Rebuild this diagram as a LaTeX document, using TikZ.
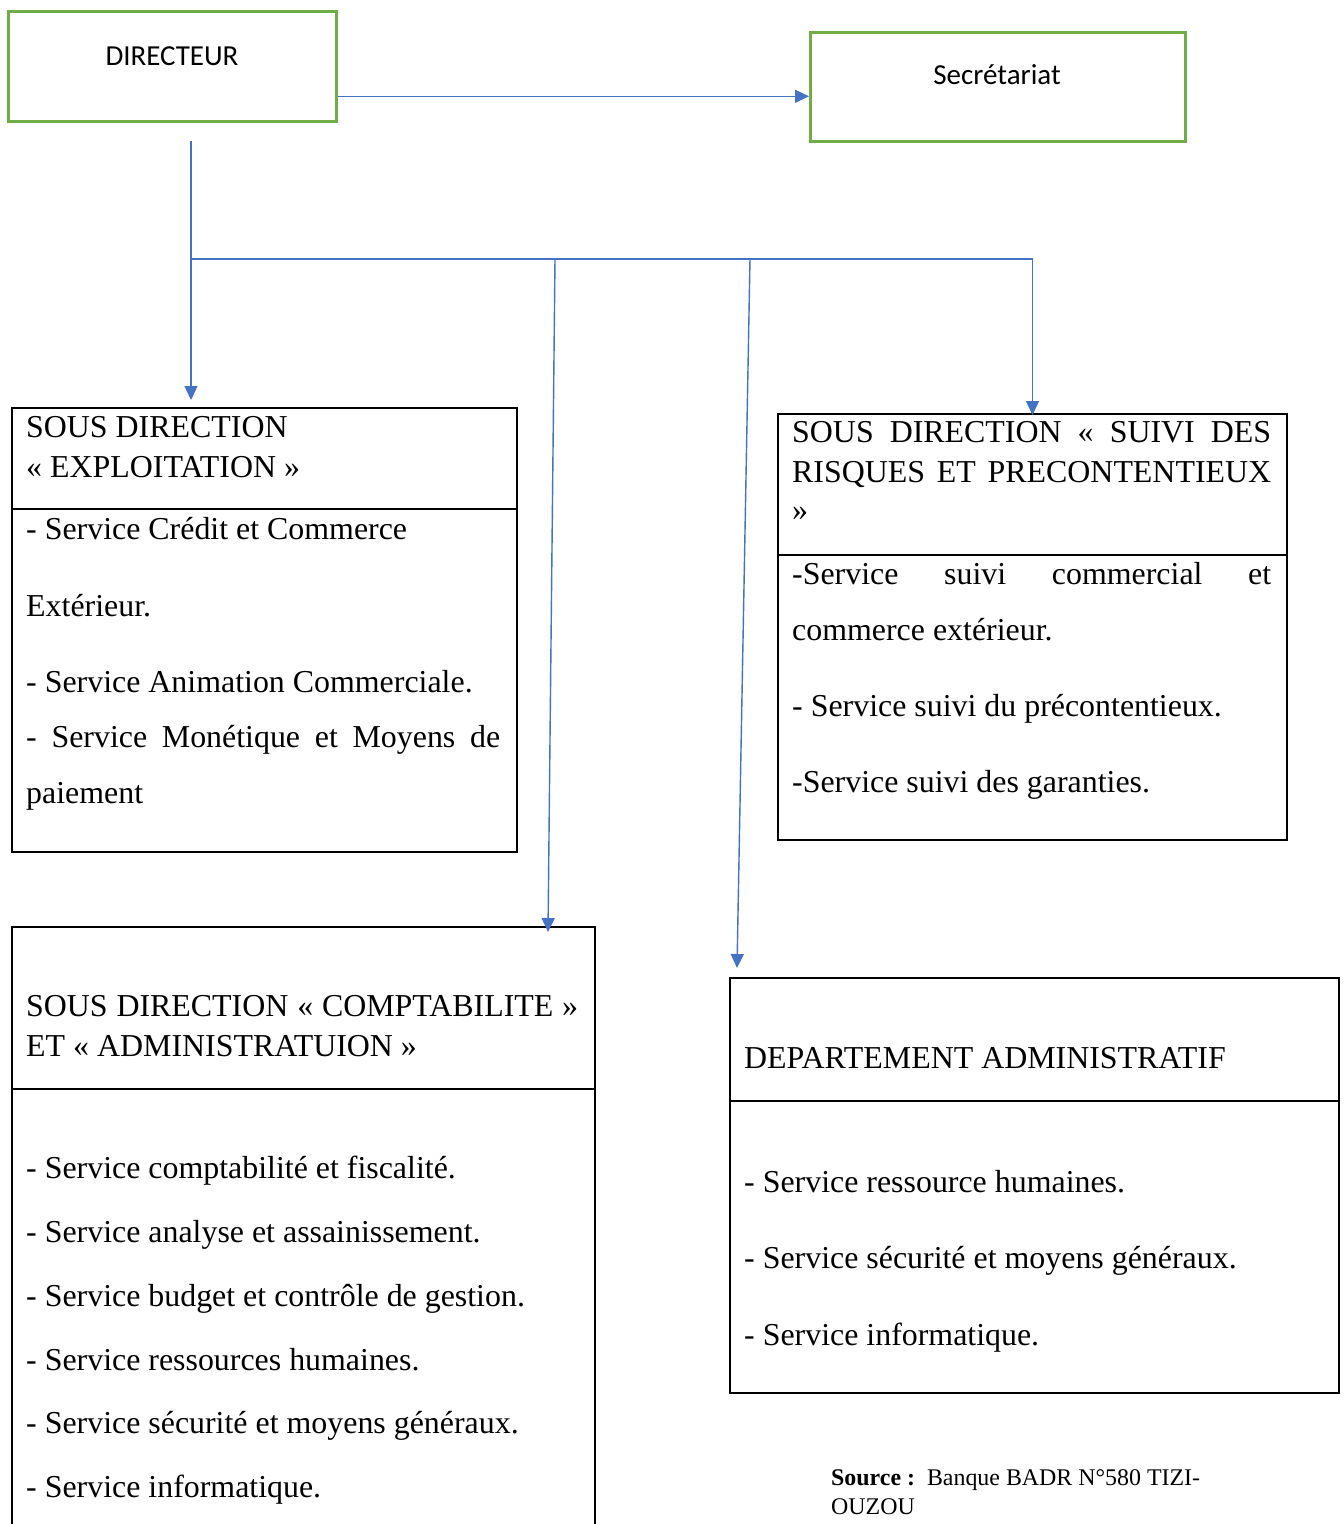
\documentclass[tikz,border=0pt]{standalone}
\usepackage{fontspec}
\setmainfont{Liberation Serif}
\newfontfamily\calibri{Carlito}
\usetikzlibrary{arrows.meta}
\definecolor{grn}{HTML}{70AD47}
\definecolor{blu}{HTML}{4472C4}
\begin{document}
\begin{tikzpicture}[x=1pt,y=-1pt,
  gbox/.style={draw=grn,line width=2.6pt,inner sep=0pt,anchor=north west},
  bbox/.style={draw=black,line width=2pt,inner sep=0pt,anchor=north west},
  link/.style={draw=blu,line width=1.4pt},
  conn/.style={link,-{Triangle[length=14pt,width=13pt]}},
  txt/.style={anchor=base west,inner sep=0pt,font=\fontsize{31.9}{38}\selectfont},
  ctxt/.style={anchor=base,inner sep=0pt,font=\calibri\fontsize{29}{34}\selectfont},
  divider/.style={draw=black,line width=2pt}]
\useasboundingbox (0,0) rectangle (1344,1524);
\clip (0,0) rectangle (1344,1524);
\fill[white] (0,0) rectangle (1344,1524);

% top boxes
\node[gbox,minimum width=328pt,minimum height=110pt] (dir) at (7,10) {};
\node[ctxt] (dirt) at (172,65) {DIRECTEUR};
\node[gbox,minimum width=375pt,minimum height=109pt] (sec) at (809,31) {};
\node[ctxt] (sect) at (997,84) {Secrétariat};

% box A
\node[bbox,minimum width=505pt,minimum height=444pt] (A) at (11,407) {};
\draw[divider] (11,509) -- (516,509);
\node[txt] (a1) at (26,437) {SOUS DIRECTION};
\node[txt] (a2) at (26,477) {« EXPLOITATION »};
\node[txt] (a3) at (26,539) {- Service Crédit et Commerce};
\node[txt] (a4) at (26,616) {Extérieur.};
\node[txt] (a5) at (26,692) {- Service Animation Commerciale.};
\node[txt] (a6) at (26,747) {\makebox[474pt][s]{- Service Monétique et Moyens de}};
\node[txt] (a7) at (26,803) {paiement};

% box B
\node[bbox,minimum width=509pt,minimum height=426pt] (B) at (777,413) {};
\draw[divider] (777,555) -- (1286,555);
\node[txt] (b1) at (792,442) {\makebox[479pt][s]{SOUS DIRECTION « SUIVI DES}};
\node[txt] (b2) at (792,482) {\makebox[479pt][s]{RISQUES ET PRECONTENTIEUX}};
\node[txt] (b3) at (792,520) {»};
\node[txt] (b4) at (792,584) {\makebox[479pt][s]{-Service suivi commercial et}};
\node[txt] (b5) at (792,640) {commerce extérieur.};
\node[txt] (b6) at (792,716) {- Service suivi du précontentieux.};
\node[txt] (b7) at (792,792) {-Service suivi des garanties.};

% box C
\node[bbox,minimum width=583pt,minimum height=640pt] (C) at (11,926) {};
\draw[divider] (11,1089) -- (594,1089);
\node[txt] (c1) at (26,1016) {\makebox[552pt][s]{SOUS DIRECTION « COMPTABILITE »}};
\node[txt] (c2) at (26,1056) {ET « ADMINISTRATUION »};
\node[txt] (c3) at (26,1178) {- Service comptabilité et fiscalité.};
\node[txt] (c4) at (26,1242) {- Service analyse et assainissement.};
\node[txt] (c5) at (26,1306) {- Service budget et contrôle de gestion.};
\node[txt] (c6) at (26,1370) {- Service ressources humaines.};
\node[txt] (c7) at (26,1433) {- Service sécurité et moyens généraux.};
\node[txt] (c8) at (26,1497) {- Service informatique.};

% box D
\node[bbox,minimum width=609pt,minimum height=415pt] (D) at (729,977) {};
\draw[divider] (729,1101) -- (1338,1101);
\node[txt] (d1) at (744,1068) {DEPARTEMENT ADMINISTRATIF};
\node[txt] (d2) at (744,1192) {- Service ressource humaines.};
\node[txt] (d3) at (744,1268) {- Service sécurité et moyens généraux.};
\node[txt] (d4) at (744,1345) {- Service informatique.};

% source
\node[anchor=base west,inner sep=0pt,font=\fontsize{23.9}{29}\selectfont] (src1) at (831,1485) {\textbf{Source :}\ \ Banque BADR N°580 TIZI-};
\node[anchor=base west,inner sep=0pt,font=\fontsize{23.9}{29}\selectfont] (src2) at (831,1514) {OUZOU};

% connectors
\path ([yshift=-30pt]dir.east) coordinate (s0);
\draw[conn] (s0) -- (s0 -| sec.west);
\coordinate (d0) at (191,141);
\coordinate (j1) at (191,259);
\coordinate (j2) at (555,259);
\coordinate (j3) at (750,259);
\draw[conn,shorten >=7pt] (d0) -- (d0 |- A.north);
\draw[conn] (j1) -| ([yshift=-2pt]B.north);
\draw[conn] (j2) -- ([xshift=-48pt,yshift=-6pt]C.north east);
\draw[conn] (j3) -- ([xshift=8pt,yshift=9pt]D.north west);
\end{tikzpicture}
\end{document}
